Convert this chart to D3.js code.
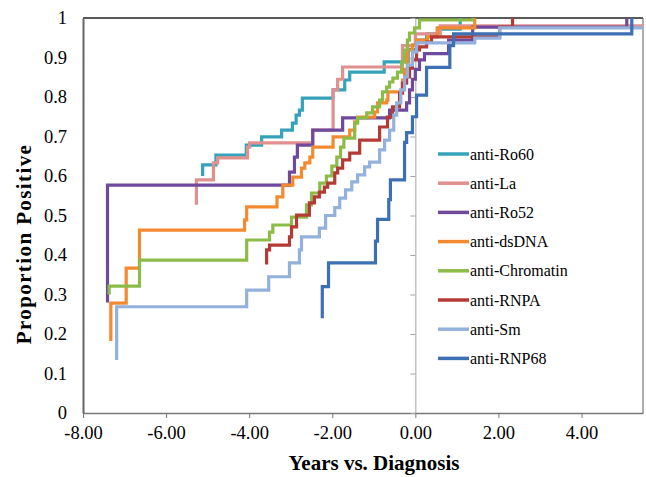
<!DOCTYPE html>
<html>
<head>
<meta charset="utf-8">
<script src="https://cdn.jsdelivr.net/npm/d3@7"></script>
<style>
  body { margin: 0; background: #fff; }
  svg text { font-family: "Liberation Serif", "Times New Roman", serif; fill: #000; }
</style>
</head>
<body>
<svg class="svg" width="646" height="477"></svg>
<script>
// data (years vs. diagnosis, proportion positive)
const seriesNames = ["anti-Ro60", "anti-La", "anti-Ro52", "anti-dsDNA", "anti-Chromatin", "anti-RNPA", "anti-Sm", "anti-RNP68"];

const ro60X = [-5.12, -5.12, -4.80, -4.07, -3.70, -3.22, -2.96, -2.87, -2.79, -2.72, -1.98, -1.70, -1.58, -0.75, -0.17, 0.03, 0.27, 0.53, 1.08];
const ro60Y = [0.60, 0.628, 0.653, 0.678, 0.699, 0.716, 0.734, 0.754, 0.767, 0.797, 0.818, 0.843, 0.863, 0.889, 0.92, 0.944, 0.96, 0.972, 1.0];

const laX = [-5.27, -5.27, -4.86, -4.76, -4.04, -3.99, -2.47, -1.98, -1.87, -1.75, -0.31, 0.00, 0.60, 5.48];
const laY = [0.527, 0.59, 0.633, 0.646, 0.673, 0.684, 0.716, 0.818, 0.845, 0.876, 0.93, 0.96, 0.98, 0.98];

const ro52X = [-7.41, -7.41, -3.03, -2.91, -2.84, -2.47, -1.75, -0.62, -0.21, -0.14, -0.07, 0.00, 0.10, 0.22, 0.80, 1.38, 5.09];
const ro52Y = [0.28, 0.577, 0.61, 0.648, 0.678, 0.716, 0.747, 0.767, 0.785, 0.818, 0.845, 0.87, 0.894, 0.91, 0.944, 0.977, 1.0];

const dsdnaX = [-7.33, -7.33, -6.96, -6.64, -4.11, -4.06, -3.33, -3.19, -2.95, -2.74, -2.66, -2.54, -2.47, -1.98, -1.58, -1.46, -1.39, -0.98, -0.91, -0.69, -0.66, -0.31, -0.26, -0.19, -0.07, 0.03, 0.29, 0.53, 1.43];
const dsdnaY = [0.182, 0.278, 0.367, 0.463, 0.489, 0.522, 0.547, 0.577, 0.597, 0.62, 0.633, 0.648, 0.673, 0.699, 0.716, 0.737, 0.749, 0.762, 0.785, 0.792, 0.813, 0.843, 0.87, 0.919, 0.932, 0.944, 0.952, 0.975, 1.0];

const chromX = [-7.37, -7.37, -6.64, -4.06, -3.51, -3.43, -2.98, -2.62, -2.50, -2.30, -2.14, -2.01, -1.89, -1.80, -1.72, -1.46, -1.39, -1.17, -1.03, -0.86, -0.79, -0.69, -0.62, -0.54, -0.43, -0.33, -0.26, -0.19, -0.14, -0.02, 0.10, 1.38];
const chromY = [0.30, 0.321, 0.387, 0.438, 0.458, 0.476, 0.496, 0.527, 0.557, 0.582, 0.60, 0.625, 0.648, 0.673, 0.696, 0.734, 0.747, 0.76, 0.775, 0.792, 0.813, 0.825, 0.838, 0.848, 0.863, 0.889, 0.919, 0.944, 0.962, 0.975, 0.995, 1.0];

const rnpaX = [-3.58, -3.58, -3.51, -3.03, -2.98, -2.86, -2.55, -2.43, -2.31, -2.19, -2.11, -1.94, -1.87, -1.75, -1.58, -1.34, -0.86, -0.67, -0.55, -0.38, -0.31, -0.21, -0.14, -0.07, 0.03, 0.10, 0.27, 0.39, 2.03, 2.34];
const rnpaY = [0.376, 0.413, 0.425, 0.446, 0.471, 0.501, 0.532, 0.547, 0.559, 0.572, 0.582, 0.608, 0.620, 0.641, 0.658, 0.691, 0.724, 0.749, 0.775, 0.810, 0.835, 0.851, 0.873, 0.894, 0.919, 0.927, 0.939, 0.952, 0.977, 1.0];

const smX = [-7.19, -7.19, -4.06, -3.53, -3.03, -2.79, -2.74, -2.31, -2.16, -1.94, -1.82, -1.68, -1.53, -1.39, -1.22, -1.10, -0.86, -0.74, -0.62, -0.52, -0.45, -0.35, -0.26, -0.19, -0.07, 0.03, 1.43, 2.03, 5.48];
const smY = [0.134, 0.269, 0.311, 0.345, 0.38, 0.413, 0.446, 0.468, 0.50, 0.52, 0.544, 0.565, 0.585, 0.603, 0.623, 0.635, 0.666, 0.691, 0.716, 0.754, 0.785, 0.818, 0.851, 0.881, 0.914, 0.937, 0.949, 0.975, 0.975];

const rnp68X = [-2.24, -2.24, -2.09, -0.96, -0.91, -0.64, -0.60, -0.26, -0.21, -0.07, 0.03, 0.27, 0.83, 0.92, 5.21];
const rnp68Y = [0.24, 0.32, 0.38, 0.435, 0.49, 0.54, 0.59, 0.685, 0.71, 0.75, 0.805, 0.875, 0.93, 0.96, 1.0];

const xTicks = [-8, -6, -4, -2, 0, 2, 4];
const yTicks = [0, 0.1, 0.2, 0.3, 0.4, 0.5, 0.6, 0.7, 0.8, 0.9, 1];

const colors = ["#34a2ba", "#e0908e", "#6f4a9c", "#f28a30", "#8cbb48", "#b43a35", "#94b1dc", "#3d6fb3"];
const xs = [ro60X, laX, ro52X, dsdnaX, chromX, rnpaX, smX, rnp68X];
const ys = [ro60Y, laY, ro52Y, dsdnaY, chromY, rnpaY, smY, rnp68Y];
const series = seriesNames.map((name, i) => ({
    name,
    color: colors[i],
    points: xs[i].map((x, j) => [x, ys[i][j]])
}));

const margin = { left: 83, right: 3, top: 18, bottom: 64 };
const width = 646, height = 477;
const svg = d3.select('.svg');

const x = d3.scaleLinear().domain([-8, 5.48]).range([margin.left, width - margin.right]);
const y = d3.scaleLinear().domain([0, 1]).range([height - margin.bottom, margin.top]);

// plot frame
svg.append('line').attr('x1', x(-8)).attr('x2', x(5.48)).attr('y1', y(1)).attr('y2', y(1))
    .attr('stroke', '#222').attr('stroke-width', 1.5);
svg.append('line').attr('x1', x(5.48)).attr('x2', x(5.48)).attr('y1', y(1)).attr('y2', y(0))
    .attr('stroke', '#777').attr('stroke-width', 1.2);

// bottom axis
svg.append('g')
    .attr('transform', `translate(0,${y(0)})`)
    .call(d3.axisBottom(x).tickValues(xTicks).tickSize(5).tickSizeOuter(0).tickPadding(8)
        .tickFormat(d => d.toFixed(2)))
    .call(g => g.select('.domain').attr('stroke', '#777').attr('stroke-width', 1.5))
    .call(g => g.selectAll('.tick line').attr('stroke', '#777'))
    .call(g => g.selectAll('text').style('font-size', '18.5px').attr('fill', '#000'));

// left labels
svg.append('g')
    .attr('transform', `translate(${x(-8)},0)`)
    .call(d3.axisLeft(y).tickValues(yTicks).tickSize(0).tickSizeOuter(0).tickPadding(16)
        .tickFormat(d => String(+d.toFixed(1))))
    .call(g => g.select('.domain').attr('stroke', '#666').attr('stroke-width', 2))
    .call(g => g.selectAll('text').style('font-size', '18.5px').attr('fill', '#000'));

// vertical axis through zero
svg.append('g')
    .attr('transform', `translate(${x(0)},0)`)
    .call(d3.axisLeft(y).tickValues(yTicks).tickSize(5).tickSizeOuter(0).tickFormat(''))
    .call(g => g.select('.domain').attr('stroke', '#a6a6a6'))
    .call(g => g.selectAll('.tick line').attr('stroke', '#a6a6a6'));

// step lines
const line = d3.line().x(d => x(d[0])).y(d => y(d[1])).curve(d3.curveStepAfter);
svg.selectAll('.series').data(series).join('path')
    .classed('series', true)
    .attr('d', d => line(d.points))
    .attr('fill', 'none')
    .attr('stroke', d => d.color)
    .attr('stroke-width', 3.2)
    .attr('stroke-linejoin', 'miter');

// legend
const legend = svg.selectAll('.legend').data(series).join('g')
    .classed('legend', true)
    .attr('transform', (d, i) => `translate(438,${154 + i * 29.2})`);
legend.append('line').attr('x1', 0).attr('x2', 31).attr('stroke', d => d.color).attr('stroke-width', 3.5);
legend.append('text').attr('x', 32).attr('dy', '0.35em').style('font-size', '16px').text(d => d.name);

// axis titles
svg.append('text')
    .attr('x', 374).attr('y', 470)
    .attr('text-anchor', 'middle')
    .style('font-size', '21px').style('font-weight', 'bold')
    .text('Years vs. Diagnosis');
svg.append('text')
    .attr('transform', 'translate(31,244) rotate(-90)')
    .attr('text-anchor', 'middle')
    .style('font-size', '21px').style('font-weight', 'bold').style('letter-spacing', '1.4px')
    .text('Proportion Positive');
</script>
</body>
</html>
